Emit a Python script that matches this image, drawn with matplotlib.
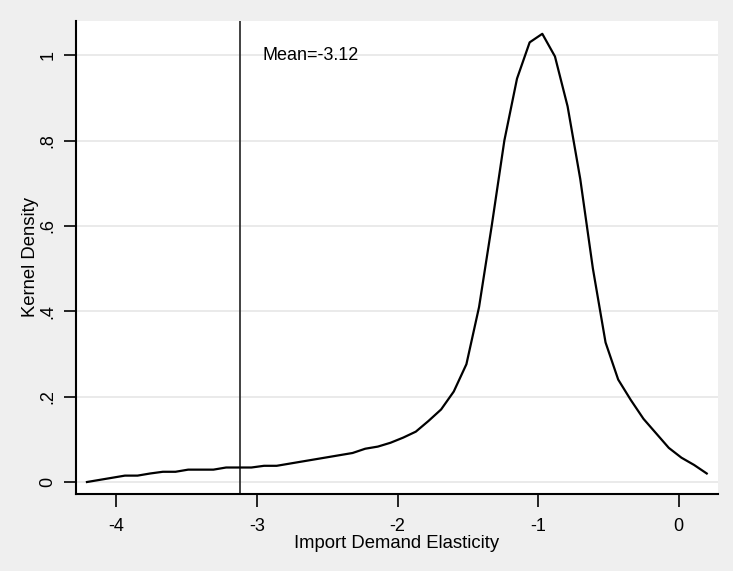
import matplotlib
matplotlib.use("Agg")
import matplotlib.pyplot as plt

plt.rcParams['font.family'] = ['Liberation Sans', 'DejaVu Sans']

# kernel density evaluation points
elasticity = [-4.21, -4.12, -4.03, -3.94, -3.85, -3.76, -3.67, -3.58, -3.49, -3.40,
              -3.31, -3.22, -3.13, -3.04, -2.95, -2.86, -2.77, -2.68, -2.59, -2.50,
              -2.41, -2.32, -2.23, -2.14, -2.05, -1.96, -1.87, -1.78, -1.69, -1.60,
              -1.51, -1.42, -1.33, -1.24, -1.15, -1.06, -0.97, -0.88, -0.79, -0.70,
              -0.61, -0.52, -0.43, -0.34, -0.25, -0.16, -0.07, 0.02, 0.11, 0.20]
density = [0.000, 0.005, 0.010, 0.015, 0.015, 0.020, 0.024, 0.024, 0.029, 0.029,
           0.029, 0.034, 0.034, 0.034, 0.038, 0.038, 0.043, 0.048, 0.053, 0.058,
           0.063, 0.068, 0.078, 0.083, 0.092, 0.104, 0.118, 0.143, 0.170, 0.212,
           0.276, 0.410, 0.600, 0.800, 0.945, 1.030, 1.050, 0.997, 0.880, 0.710,
           0.500, 0.327, 0.240, 0.192, 0.148, 0.114, 0.080, 0.057, 0.040, 0.020]
mean_val = -3.12

xticks = [-4, -3, -2, -1, 0]
xtick_labels = ['-4', '-3', '-2', '-1', '0']
yticks = [0, 0.2, 0.4, 0.6, 0.8, 1.0]
ytick_labels = ['0', '.2', '.4', '.6', '.8', '1']

fig = plt.figure(figsize=(7.33, 5.71), dpi=100, facecolor='#efefef')
ax = fig.add_axes([0.1033, 0.1349, 0.8762, 0.8283])
ax.set_facecolor('white')

ax.plot(elasticity, density, color='black', lw=1.6, zorder=3)
ax.axvline(mean_val, color='#333333', lw=1.3, zorder=2)
ax.text(-2.96, 1.0, 'Mean=-3.12', fontsize=13, va='center', ha='left', zorder=4)

ax.set_xlim(-4.29, 0.28)
ax.set_ylim(-0.028, 1.08)
ax.tick_params(axis='both', direction='out', length=9, width=1.2, color='black',
               labelsize=13)
ax.tick_params(axis='x', pad=8)
ax.tick_params(axis='y', pad=5)
ax.set_xticks(xticks)
ax.set_xticklabels(xtick_labels)
ax.set_yticks(yticks)
ax.set_yticklabels(ytick_labels, rotation=90, va='center')

ax.yaxis.grid(True, color='#e6e6e6', lw=1.2, zorder=0)
ax.set_axisbelow(True)

for s in ['top', 'right']:
    ax.spines[s].set_visible(False)
for s in ['left', 'bottom']:
    ax.spines[s].set_linewidth(1.5)
    ax.spines[s].set_color('black')

ax.set_xlabel('Import Demand Elasticity', fontsize=13.3, labelpad=0)
ax.set_ylabel('Kernel Density', fontsize=13.3)
ax.yaxis.set_label_coords(-0.057, 0.5)

fig.savefig('out.png', dpi=100, facecolor=fig.get_facecolor())
